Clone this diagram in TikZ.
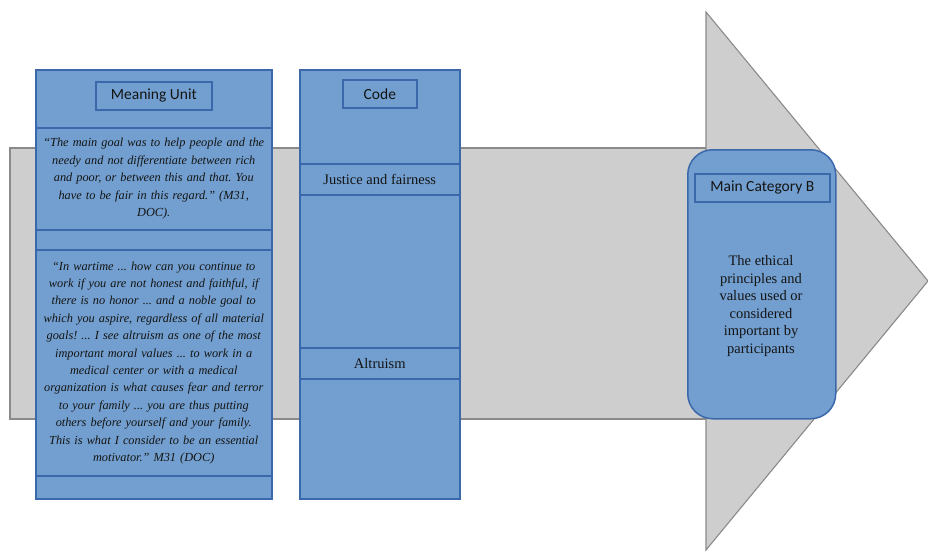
\documentclass[tikz,border=0pt]{standalone}
\usepackage{fontspec}
\setmainfont{Liberation Serif}
\newfontfamily\labelfont{Carlito}
\definecolor{panelfill}{RGB}{114,159,207}
\definecolor{paneledge}{RGB}{58,104,170}
\definecolor{arrowfill}{RGB}{206,206,206}
\definecolor{arrowedge}{RGB}{138,138,138}
\definecolor{ink}{RGB}{20,20,20}
\frenchspacing
\begin{document}
\begin{tikzpicture}[x=1pt,y=-1pt,
  arrowbody/.style={draw=arrowedge, fill=arrowfill, line width=1.1pt},
  panel/.style={draw=paneledge, fill=panelfill, line width=1.5pt, inner sep=0pt},
  rowbox/.style={panel, anchor=north west, align=center, text=ink},
  labelbox/.style={draw=paneledge, line width=1.7pt, anchor=north west, inner sep=0pt,
    font=\labelfont\fontsize{15.5}{17}\selectfont, text=ink},
  quote/.style={font=\itshape\fontsize{12.3}{17.4}\selectfont, text width=232pt},
  codetext/.style={font=\fontsize{14.5}{16}\selectfont},
  cattext/.style={font=\fontsize{14.5}{17.5}\selectfont, align=center, text=ink}]
\useasboundingbox (0,0) rectangle (928,552);

% the large grey arrow behind everything
\draw[arrowbody] (10,148) rectangle (706,419);
\draw[arrowbody] (706,12) -- (928,281) -- (706,550) -- cycle;

% Meaning unit column
\node[rowbox, minimum width=236pt, minimum height=429pt] (mucol) at (35,69) {};
\node[labelbox, minimum width=116pt, minimum height=28pt] (mulabel) at (95,81) {Meaning Unit};
\node[rowbox, quote, minimum width=236pt, minimum height=102pt, text width=232pt] (quoteA) at (35,127)
  {“The main goal was to help people and the\\
   needy and not differentiate between rich\\
   and poor, or between this and that. You\\
   have to be fair in this regard.” (M31,\\
   DOC).};
\node[rowbox, quote, minimum width=236pt, minimum height=226pt, text width=232pt] (quoteB) at (35,249)
  {“In wartime ... how can you continue to\\
   work if you are not honest and faithful, if\\
   there is no honor ... and a noble goal to\\
   which you aspire, regardless of all material\\
   goals! ... I see altruism as one of the most\\
   important moral values ... to work in a\\
   medical center or with a medical\\
   organization is what causes fear and terror\\
   to your family ... you are thus putting\\
   others before yourself and your family.\\
   This is what I consider to be an essential\\
   motivator.” M31 (DOC)};

% Code column
\node[rowbox, minimum width=160pt, minimum height=429pt] (codecol) at (299,69) {};
\node[labelbox, minimum width=74pt, minimum height=28pt] (codelabel) at (342,79) {Code};
\node[rowbox, codetext, minimum width=160pt, minimum height=31pt] (justice) at (299,163) {Justice and fairness};
\node[rowbox, codetext, minimum width=160pt, minimum height=31pt] (altruism) at (299,347) {Altruism};

% Main category
\node[rowbox, rounded corners=25pt, minimum width=148pt, minimum height=269pt] (maincat) at (687,149) {};
\node[labelbox, minimum width=135pt, minimum height=28pt] (catlabel) at (694,173) {Main Category B};
\node[cattext] (catdesc) at (761,306)
  {The ethical\\ principles and\\ values used or\\ considered\\ important by\\ participants};
\end{tikzpicture}
\end{document}
